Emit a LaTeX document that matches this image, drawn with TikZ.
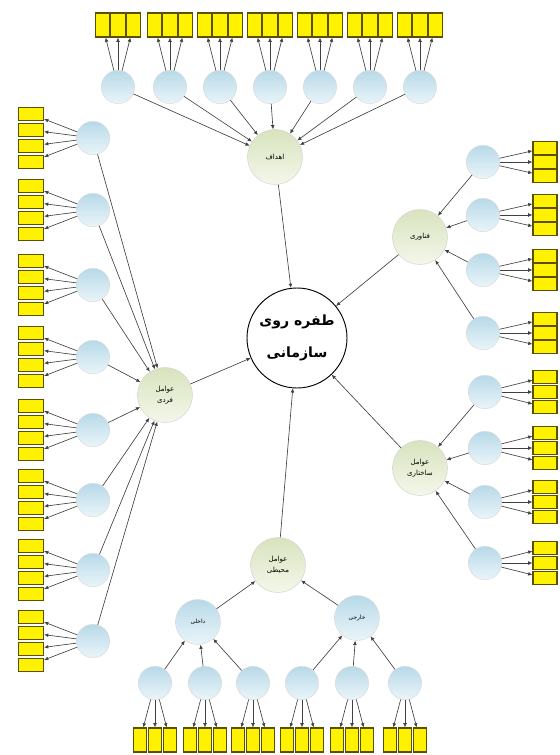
\documentclass[tikz,border=0pt]{standalone}
\usepackage{fontspec}
\newfontfamily\farsi[Script=Arabic]{DejaVu Sans}
\TeXXeTstate=1
\usetikzlibrary{arrows.meta}
\definecolor{facttop}{HTML}{D8E3BE}
\definecolor{factbot}{HTML}{F4F7EA}
\definecolor{dimtop}{HTML}{B8D9E8}
\definecolor{dimbot}{HTML}{EAF5FA}
\definecolor{itemedge}{HTML}{5A5000}
\tikzset{
  core/.style={circle,draw,thick,fill=white,minimum size=3cm,inner sep=0pt,align=center,
    font=\farsi\bfseries\fontsize{12}{21}\selectfont},
  factor/.style={circle,draw=gray!35,top color=facttop,bottom color=factbot,
    minimum size=1.65cm,inner sep=0pt,align=center,font=\farsi\fontsize{6}{9}\selectfont},
  dim/.style={circle,draw=gray!30,top color=dimtop,bottom color=dimbot,
    minimum size=1cm,inner sep=0pt,font=\farsi\fontsize{5}{6}\selectfont},
  subdim/.style={dim,minimum size=1.35cm},
  itemh/.style={rectangle,draw=itemedge,line width=1pt,fill=yellow,
    minimum width=0.75cm,minimum height=0.4cm,inner sep=0pt},
  itemv/.style={itemh,minimum width=0.43cm,minimum height=0.72cm},
  link/.style={draw=black!75,line width=0.55pt,-{Latex[length=3.6pt,width=3.2pt]}}
}
\begin{document}
\begin{tikzpicture}[x=0.03cm,y=-0.03cm]
  \useasboundingbox (0,0) rectangle (559,755);
  %centro
  \node[core] (core) at (297,338) {\beginR طفره روی\endR\\[2mm]\beginR سازمانی\endR};
  \node[factor] (goal) at (275,157) {\beginR اهداف\endR};
  \node[factor] (tech) at (420,237) {\beginR فناوری\endR};
  \node[factor] (struct) at (420,468) {\beginR عوامل\endR\\\beginR ساختاری\endR};
  \node[factor] (env) at (278,565) {\beginR عوامل\endR\\\beginR محیطی\endR};
  \node[factor] (indiv) at (165,395) {\beginR عوامل\endR\\\beginR فردی\endR};
  \foreach \f in {goal,tech,struct,env,indiv}
    \draw[link] (\f) -- (core);
  %alto
  \foreach \i/\x in {1/118,2/170,3/220,4/270,5/320,6/370,7/420} {
    \node[dim] (g\i) at (\x,87) {};
    \draw[link] (g\i) -- (goal);
    \foreach \j/\d in {1/-15.5,2/0,3/15.5} {
      \node[itemv] (g\i-\j) at (\x+\d,25) {};
      \draw[link] (g\i) -- (g\i-\j);
    }
  }
  %sinistra
  \foreach \i/\y in {1/138,2/210,3/285,4/357,5/430,6/500,7/570,8/641} {
    \node[dim] (l\i) at (93,\y) {};
    \draw[link] (l\i) -- (indiv);
    \foreach \j/\d in {1/-24,2/-8,3/8,4/24} {
      \node[itemh] (l\i-\j) at (31,\y+\d) {};
      \draw[link] (l\i) -- (l\i-\j);
    }
  }
  %destra
  \foreach \i/\y in {1/162,2/215,3/270,4/333} {
    \node[dim] (t\i) at (483,\y) {};
    \draw[link] (t\i) -- (tech);
    \foreach \j/\d in {1/-14,2/0,3/14} {
      \node[itemh,minimum width=0.72cm,minimum height=0.38cm] (t\i-\j) at (545,\y+\d) {};
      \draw[link] (t\i) -- (t\i-\j);
    }
  }
  \foreach \i/\y in {1/392,2/448,3/502,4/563} {
    \node[dim] (s\i) at (485,\y) {};
    \draw[link] (s\i) -- (struct);
    \foreach \j/\d in {1/-15,2/0,3/15} {
      \node[itemh,minimum width=0.72cm,minimum height=0.4cm] (s\i-\j) at (545,\y+\d) {};
      \draw[link] (s\i) -- (s\i-\j);
    }
  }
  %basso
  \node[subdim] (e1) at (198,622) {\beginR داخلی\endR};
  \node[subdim] (e2) at (357,618) {\beginR خارجی\endR};
  \draw[link] (e1) -- (env);
  \draw[link] (e2) -- (env);
  \foreach \i/\x/\p in {1/155/e1,2/205/e1,3/253/e1,4/302/e2,5/352/e2,6/405/e2} {
    \node[dim] (b\i) at (\x,683) {};
    \draw[link] (b\i) -- (\p);
    \foreach \j/\d in {1/-15,2/0,3/15} {
      \node[itemv,minimum width=0.39cm] (b\i-\j) at (\x+\d,740) {};
      \draw[link] (b\i) -- (b\i-\j);
    }
  }
\end{tikzpicture}
\end{document}
